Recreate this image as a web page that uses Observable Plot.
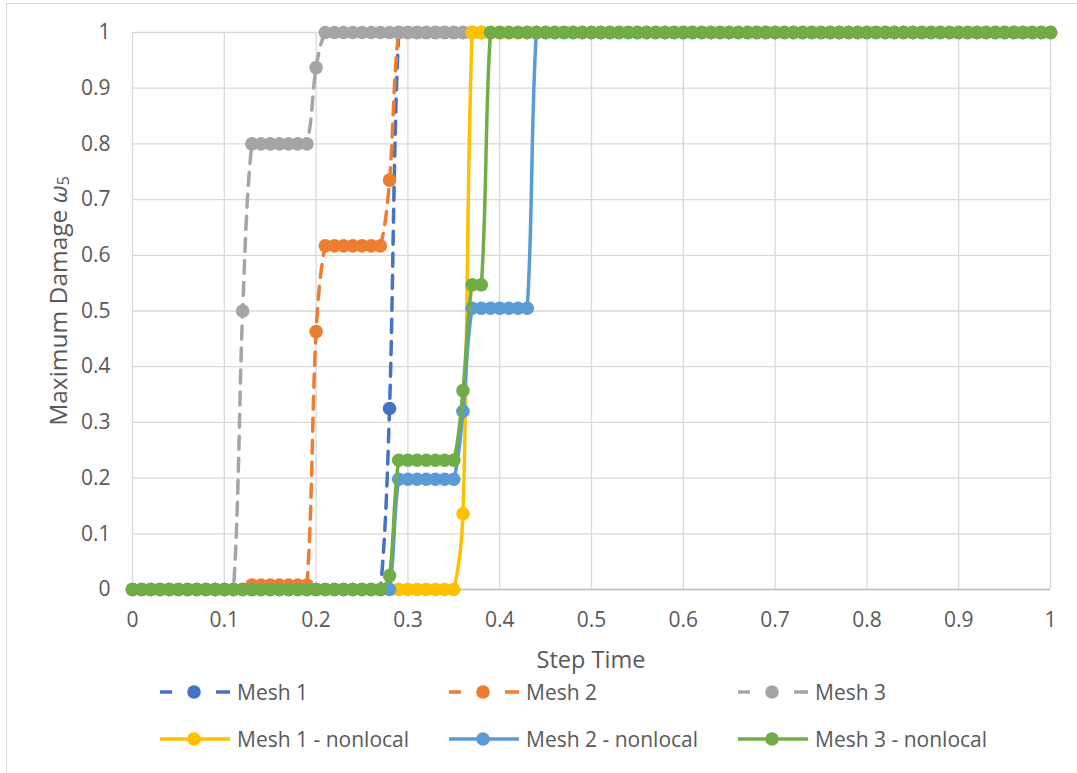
<!DOCTYPE html>
<html><head><meta charset="utf-8">
<script src="https://cdn.jsdelivr.net/npm/d3@7"></script>
<script src="https://cdn.jsdelivr.net/npm/@observablehq/plot@0.6"></script>
<style>
html,body{margin:0;padding:0;background:#fff;overflow:hidden;}
#wrap{position:relative;width:1077px;height:773px;font-family:"Open Sans",sans-serif;color:#595959;overflow:hidden;}
#frame{position:absolute;left:6px;top:3px;width:1100px;height:800px;border:1px solid #d9d9d9;box-sizing:border-box;}
#chart{position:absolute;left:0;top:0;}
.item{position:absolute;display:flex;align-items:center;font-size:21px;line-height:24px;white-space:nowrap;}
.item svg{margin-right:7px;}
</style></head><body>
<div id="wrap"><div id="frame"></div><div id="chart"></div><div id="legend"></div></div>
<script>
// ---- data ----
const stepTime = [
  0,0.01,0.02,0.03,0.04,0.05,0.06,0.07,0.08,0.09,
  0.10,0.11,0.12,0.13,0.14,0.15,0.16,0.17,0.18,0.19,
  0.20,0.21,0.22,0.23,0.24,0.25,0.26,0.27,0.28,0.29,
  0.30,0.31,0.32,0.33,0.34,0.35,0.36,0.37,0.38,0.39,
  0.40,0.41,0.42,0.43,0.44,0.45,0.46,0.47,0.48,0.49,
  0.50,0.51,0.52,0.53,0.54,0.55,0.56,0.57,0.58,0.59,
  0.60,0.61,0.62,0.63,0.64,0.65,0.66,0.67,0.68,0.69,
  0.70,0.71,0.72,0.73,0.74,0.75,0.76,0.77,0.78,0.79,
  0.80,0.81,0.82,0.83,0.84,0.85,0.86,0.87,0.88,0.89,
  0.90,0.91,0.92,0.93,0.94,0.95,0.96,0.97,0.98,0.99,
  1.00
];
const mesh1 = [
  0,0,0,0,0,0,0,0,0,0,
  0,0,0,0,0,0,0,0,0,0,
  0,0,0,0,0,0,0,0,0.325,1,
  1,1,1,1,1,1,1,1,1,1,
  1,1,1,1,1,1,1,1,1,1,
  1,1,1,1,1,1,1,1,1,1,
  1,1,1,1,1,1,1,1,1,1,
  1,1,1,1,1,1,1,1,1,1,
  1,1,1,1,1,1,1,1,1,1,
  1,1,1,1,1,1,1,1,1,1,
  1
];
const mesh2 = [
  0,0,0,0,0,0,0,0,0,0,
  0,0,0,0.008,0.008,0.008,0.008,0.008,0.008,0.008,
  0.463,0.617,0.617,0.617,0.617,0.617,0.617,0.617,0.735,1,
  1,1,1,1,1,1,1,1,1,1,
  1,1,1,1,1,1,1,1,1,1,
  1,1,1,1,1,1,1,1,1,1,
  1,1,1,1,1,1,1,1,1,1,
  1,1,1,1,1,1,1,1,1,1,
  1,1,1,1,1,1,1,1,1,1,
  1,1,1,1,1,1,1,1,1,1,
  1
];
const mesh3 = [
  0,0,0,0,0,0,0,0,0,0,
  0,0,0.5,0.8,0.8,0.8,0.8,0.8,0.8,0.8,
  0.937,1,1,1,1,1,1,1,1,1,
  1,1,1,1,1,1,1,1,1,1,
  1,1,1,1,1,1,1,1,1,1,
  1,1,1,1,1,1,1,1,1,1,
  1,1,1,1,1,1,1,1,1,1,
  1,1,1,1,1,1,1,1,1,1,
  1,1,1,1,1,1,1,1,1,1,
  1,1,1,1,1,1,1,1,1,1,
  1
];
const mesh1Nonlocal = [
  0,0,0,0,0,0,0,0,0,0,
  0,0,0,0,0,0,0,0,0,0,
  0,0,0,0,0,0,0,0,0,0,
  0,0,0,0,0,0,0.136,1,1,1,
  1,1,1,1,1,1,1,1,1,1,
  1,1,1,1,1,1,1,1,1,1,
  1,1,1,1,1,1,1,1,1,1,
  1,1,1,1,1,1,1,1,1,1,
  1,1,1,1,1,1,1,1,1,1,
  1,1,1,1,1,1,1,1,1,1,
  1
];
const mesh2Nonlocal = [
  0,0,0,0,0,0,0,0,0,0,
  0,0,0,0,0,0,0,0,0,0,
  0,0,0,0,0,0,0,0,0,0.198,
  0.198,0.198,0.198,0.198,0.198,0.198,0.32,0.505,0.505,0.505,
  0.505,0.505,0.505,0.505,1,1,1,1,1,1,
  1,1,1,1,1,1,1,1,1,1,
  1,1,1,1,1,1,1,1,1,1,
  1,1,1,1,1,1,1,1,1,1,
  1,1,1,1,1,1,1,1,1,1,
  1,1,1,1,1,1,1,1,1,1,
  1
];
const mesh3Nonlocal = [
  0,0,0,0,0,0,0,0,0,0,
  0,0,0,0,0,0,0,0,0,0,
  0,0,0,0,0,0,0,0,0.025,0.232,
  0.232,0.232,0.232,0.232,0.232,0.232,0.357,0.547,0.547,1,
  1,1,1,1,1,1,1,1,1,1,
  1,1,1,1,1,1,1,1,1,1,
  1,1,1,1,1,1,1,1,1,1,
  1,1,1,1,1,1,1,1,1,1,
  1,1,1,1,1,1,1,1,1,1,
  1,1,1,1,1,1,1,1,1,1,
  1
];
const seriesNames = ["Mesh 1","Mesh 2","Mesh 3","Mesh 1 - nonlocal","Mesh 2 - nonlocal","Mesh 3 - nonlocal"];
const seriesValues = [mesh1, mesh2, mesh3, mesh1Nonlocal, mesh2Nonlocal, mesh3Nonlocal];
const xTicks = [0,0.1,0.2,0.3,0.4,0.5,0.6,0.7,0.8,0.9,1];
const yTicks = [0,0.1,0.2,0.3,0.4,0.5,0.6,0.7,0.8,0.9,1];
const xTitle = "Step Time";
const yTitle = "Maximum Damage ";

// ---- styles ----
const seriesColors = ["#4472C4","#ED7D31","#A5A5A5","#FFC000","#5B9BD5","#70AD47"];
const seriesDashed = [true,true,true,false,false,false];

// Spreadsheet-style smoothed line: tangent direction from neighbours,
// control-point length proportional to each segment's own length.
const K = 0.3;
function smoothCurve(context) {
  let pts;
  return {
    areaStart() {}, areaEnd() {},
    lineStart() { pts = []; },
    point(x, y) { pts.push([+x, +y]); },
    lineEnd() {
      const n = pts.length;
      if (!n) return;
      context.moveTo(pts[0][0], pts[0][1]);
      if (n === 1) return;
      const tan = pts.map((p, i) => {
        const a = pts[Math.max(0, i - 1)], b = pts[Math.min(n - 1, i + 1)];
        const dx = b[0] - a[0], dy = b[1] - a[1];
        const l = Math.hypot(dx, dy) || 1;
        return [dx / l, dy / l];
      });
      for (let i = 0; i < n - 1; i++) {
        const p = pts[i], q = pts[i + 1];
        const L = Math.hypot(q[0] - p[0], q[1] - p[1]) * K;
        context.bezierCurveTo(
          p[0] + tan[i][0] * L, p[1] + tan[i][1] * L,
          q[0] - tan[i + 1][0] * L, q[1] - tan[i + 1][1] * L,
          q[0], q[1]);
      }
    }
  };
}

const W = 1077, H = 672;
const ML = 132, MR = 27, MT = 32, MB = H - 589;
const fmt = d3.format("~g");

const marks = [
  Plot.gridX(xTicks, {stroke:"#d9d9d9", strokeOpacity:1, strokeWidth:1.3}),
  Plot.gridY(yTicks, {stroke:"#d9d9d9", strokeOpacity:1, strokeWidth:1.3}),
  Plot.ruleY([0], {stroke:"#bfbfbf", strokeWidth:1.3}),
  Plot.axisX(xTicks, {tickSize:0, tickPadding:23, tickFormat:fmt, label:null}),
  Plot.axisY(yTicks, {tickSize:0, tickPadding:22, tickFormat:fmt, label:null})
];
seriesNames.forEach((name, k) => {
  const rows = stepTime.map((t, i) => ({t, v: seriesValues[k][i]}));
  marks.push(Plot.line(rows, {x:"t", y:"v", stroke:seriesColors[k], strokeWidth:3.5,
    strokeDasharray: seriesDashed[k] ? "13,9" : null, curve: smoothCurve}));
  marks.push(Plot.dot(rows, {x:"t", y:"v", r:6.8, fill:seriesColors[k], stroke:"none"}));
});

const chart = Plot.plot({
  width: W, height: H,
  marginLeft: ML, marginRight: MR, marginTop: MT, marginBottom: MB,
  x: {domain:[0,1]},
  y: {domain:[0,1]},
  style: {fontFamily:"'Open Sans', sans-serif", fontSize:"21px", color:"#595959", background:"transparent", overflow:"visible"},
  marks
});
document.getElementById("chart").appendChild(chart);

const svg = d3.select(chart);
svg.append("text")
  .attr("x", (ML + (W - MR)) / 2).attr("y", 659)
  .attr("text-anchor","middle").attr("dominant-baseline","central")
  .attr("fill","#595959").style("font-size","23.5px")
  .text(xTitle);
const yt = svg.append("text")
  .attr("transform","translate(57,301) rotate(-90)")
  .attr("text-anchor","middle").attr("dominant-baseline","central")
  .attr("fill","#595959").style("font-size","24.5px");
yt.append("tspan").text(yTitle);
yt.append("tspan").attr("font-style","italic").text("ω");
yt.append("tspan").attr("font-size","16px").attr("dy","6").text("5");

// ---- legend ----
const legend = d3.select("#legend");
const rowY = [692, 739];
const colX = [160, 449, 738];
seriesNames.forEach((name, k) => {
  const item = legend.append("div").attr("class","item")
    .style("left", colX[k % 3] + "px").style("top", (rowY[Math.floor(k / 3)] - 12) + "px");
  const s = item.append("svg").attr("width",70).attr("height",24);
  if (seriesDashed[k]) {
    s.append("line").attr("x1",0).attr("x2",12).attr("y1",12).attr("y2",12).attr("stroke",seriesColors[k]).attr("stroke-width",3.5);
    s.append("line").attr("x1",56).attr("x2",70).attr("y1",12).attr("y2",12).attr("stroke",seriesColors[k]).attr("stroke-width",3.5);
  } else {
    s.append("line").attr("x1",0).attr("x2",70).attr("y1",12).attr("y2",12).attr("stroke",seriesColors[k]).attr("stroke-width",3.5);
  }
  s.append("circle").attr("cx",34).attr("cy",12).attr("r",6.8).attr("fill",seriesColors[k]);
  item.append("span").text(name);
});
</script>
</body></html>
